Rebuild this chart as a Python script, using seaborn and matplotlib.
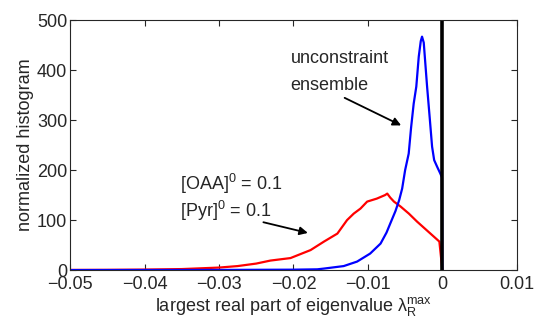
import matplotlib
matplotlib.use("Agg")
import matplotlib.pyplot as plt
import seaborn as sns
import pandas as pd

# data
blue_x = [-0.05, -0.03, -0.02, -0.0168, -0.0159, -0.01325, -0.01145, -0.0097, -0.0083, -0.0075,
          -0.0070, -0.0063, -0.0058, -0.0054, -0.0050, -0.00452, -0.0042, -0.00385, -0.0035,
          -0.00317, -0.0029, -0.00273, -0.0025, -0.00205, -0.0017, -0.00138, -0.0011,
          -0.00071, -0.00027, -0.00005, 0.0]
blue_y = [0, 0.3, 0.8, 1.5, 3, 8, 17, 33, 53, 75,
          93, 118, 140, 163, 200, 233, 285, 333, 367,
          427, 458, 467, 455, 367, 305, 247, 220,
          207, 193, 185, 0]

red_x = [-0.05, -0.045, -0.04, -0.035, -0.03, -0.0275, -0.025, -0.0231, -0.0204, -0.0177,
         -0.0159, -0.0141, -0.0128, -0.0119, -0.0110, -0.0101, -0.0088, -0.0077, -0.0074,
         -0.0070, -0.0065, -0.0056, -0.0045, -0.0034, -0.0025, -0.0016, -0.0004, 0.0]
red_y = [0.3, 0.5, 1, 2, 5, 8, 13, 19, 24, 40,
         57, 73, 100, 113, 123, 137, 143, 150, 153,
         145, 137, 127, 113, 97, 85, 73, 57, 0]

x_ticks = [-0.05, -0.04, -0.03, -0.02, -0.01, 0, 0.01]
x_tick_labels = ["\u22120.05", "\u22120.04", "\u22120.03", "\u22120.02", "\u22120.01", "0", "0.01"]
y_ticks = [0, 100, 200, 300, 400, 500]

sns.set_style("ticks")
plt.rcParams['font.family'] = ['Liberation Sans', 'DejaVu Sans']
plt.rcParams['mathtext.fontset'] = 'custom'
plt.rcParams['mathtext.rm'] = 'Liberation Sans'
plt.rcParams['mathtext.it'] = 'Liberation Sans:italic'

fig = plt.figure(figsize=(5.35, 3.25), dpi=100)
ax = fig.add_axes([0.131, 0.169, 0.835, 0.769])

df_b = pd.DataFrame({"x": blue_x, "y": blue_y})
df_r = pd.DataFrame({"x": red_x, "y": red_y})
sns.lineplot(data=df_r, x="x", y="y", color="#ff0000", lw=1.6, ax=ax, sort=False)
sns.lineplot(data=df_b, x="x", y="y", color="#0000ff", lw=1.6, ax=ax, sort=False)
ax.axvline(0, color="black", lw=2.6)

ax.set_xlim(-0.05, 0.01)
ax.set_ylim(0, 500)
ax.set_xticks(x_ticks)
ax.set_xticklabels(x_tick_labels)
ax.set_yticks(y_ticks)
ax.tick_params(direction="in", top=True, right=True, labelsize=13, length=4, width=0.8, pad=2)
ax.tick_params(axis="x", pad=4.5)
for s in ax.spines.values():
    s.set_visible(True)
    s.set_linewidth(0.8)

ax.set_xlabel(r"largest real part of eigenvalue λ$_\mathrm{R}^\mathrm{max}$", fontsize=13, labelpad=1)
ax.set_ylabel("normalized histogram", fontsize=13, labelpad=2)

ax.text(-0.0204, 414, "unconstraint", fontsize=13, ha="left", va="baseline")
ax.text(-0.0204, 360, "ensemble", fontsize=13, ha="left", va="baseline")
ax.annotate("", xy=(-0.0052, 287), xytext=(-0.01346, 347),
            arrowprops=dict(arrowstyle="-|>", color="black", lw=1.3, mutation_scale=12))

ax.text(-0.0352, 160, r"[OAA]$^0$ = 0.1", fontsize=13, ha="left", va="baseline")
ax.text(-0.0352, 106, r"[Pyr]$^0$ = 0.1", fontsize=13, ha="left", va="baseline")
ax.annotate("", xy=(-0.0177, 73), xytext=(-0.0244, 97),
            arrowprops=dict(arrowstyle="-|>", color="black", lw=1.3, mutation_scale=12))

fig.savefig("out.png", dpi=100)
